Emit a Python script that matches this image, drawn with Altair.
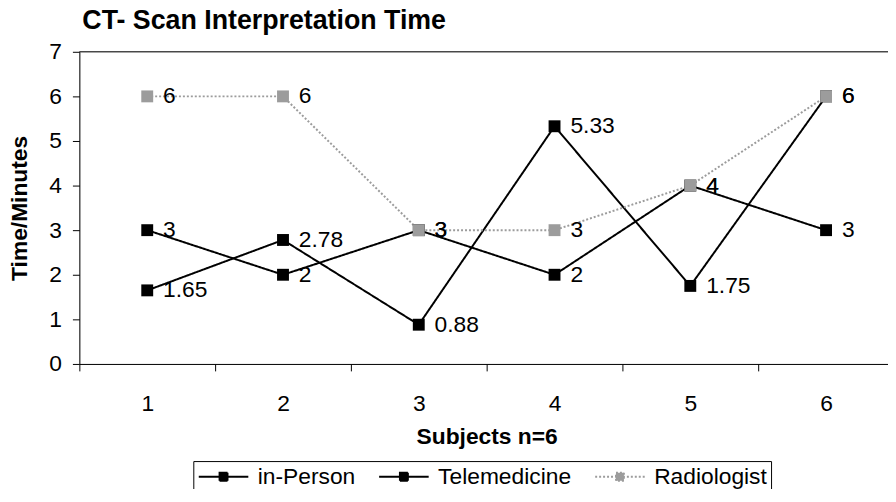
import altair as alt
import pandas as pd

subjects = ["1", "2", "3", "4", "5", "6"]
in_person = [3, 2, 3, 2, 4, 3]
telemedicine = [1.65, 2.78, 0.88, 5.33, 1.75, 6]
radiologist = [6, 6, 3, 3, 4, 6]
series_names = ["in-Person", "Telemedicine", "Radiologist"]
series_colors = ["#000000", "#000000", "#9c9c9c"]
series_dash = [[1, 0], [1, 0], [2, 2]]
series_width = [2, 2, 1.5]
y_ticks = [0, 1, 2, 3, 4, 5, 6, 7]

rows = []
for name, vals in zip(series_names, [in_person, telemedicine, radiologist]):
    for s, v in zip(subjects, vals):
        rows.append({"subject": s, "series": name, "value": v, "label": f"{v:g}"})
df = pd.DataFrame(rows)

FONT = "Liberation Sans"

# legend symbol: line with a filled-looking square on it
sym = ("M-1,0H4"
       "M1.1,-0.4H1.9V0.4H1.1Z"
       "M1.1,-0.2H1.9M1.1,0H1.9M1.1,0.2H1.9")

x_enc = alt.X(
    "subject:O",
    sort=subjects,
    scale=alt.Scale(type="band", paddingInner=0, paddingOuter=0, range=[0, 822]),
    axis=alt.Axis(
        title="Subjects n=6",
        labelAngle=0,
        labelFontSize=23,
        labelFont=FONT,
        labelColor="black",
        labelPadding=22,
        tickSize=7,
        tickColor="black",
        domainColor="black",
        tickBand="extent",
        titleFont=FONT,
        titleFontSize=23,
        titleFontWeight="bold",
        titleColor="black",
        titlePadding=10,
    ),
)
y_enc = alt.Y(
    "value:Q",
    scale=alt.Scale(domain=[0, 7], nice=False, zero=True),
    axis=alt.Axis(
        title="Time/Minutes",
        values=y_ticks,
        grid=False,
        labelFontSize=23,
        labelFont=FONT,
        labelColor="black",
        labelPadding=11,
        tickSize=7,
        tickColor="black",
        domainColor="black",
        titleFont=FONT,
        titleFontSize=23,
        titleFontWeight="bold",
        titleColor="black",
        titlePadding=18,
    ),
)

color_scale = alt.Scale(domain=series_names, range=series_colors)
dash_scale = alt.Scale(domain=series_names, range=series_dash)
width_scale = alt.Scale(domain=series_names, range=series_width)

base = alt.Chart(df)

lines = base.mark_line().encode(
    x=x_enc,
    y=y_enc,
    color=alt.Color(
        "series:N",
        scale=color_scale,
        sort=series_names,
        legend=alt.Legend(
            title=None,
            orient="none",
            legendX=115,
            legendY=413,
            direction="horizontal",
            columns=3,
            strokeColor="black",
            padding=4,
            symbolType=sym,
            symbolSize=400,
            symbolStrokeWidth=2,
            labelFontSize=23,
            labelFont=FONT,
            labelColor="black",
            labelOffset=38,
            columnPadding=19,
        ),
    ),
    strokeDash=alt.StrokeDash("series:N", scale=dash_scale, sort=series_names, legend=None),
    strokeWidth=alt.StrokeWidth("series:N", scale=width_scale, sort=series_names, legend=None),
)

points = base.mark_square(size=144, opacity=1).encode(
    x=x_enc,
    y=y_enc,
    color=alt.Color("series:N", scale=color_scale, legend=None),
)

labels = base.mark_text(
    align="left", baseline="middle", dx=16, fontSize=23, font=FONT, color="black"
).encode(x=x_enc, y=y_enc, text="label:N")

top_border = alt.Chart(pd.DataFrame({"v": [7]})).mark_rule(color="black", strokeWidth=1).encode(
    y=alt.Y("v:Q", scale=alt.Scale(domain=[0, 7]))
)

chart = (
    alt.layer(lines, points, labels, top_border)
    .properties(
        width=816,
        height=315,
        autosize=alt.AutoSizeParams(type="none"),
        padding={"left": 72, "top": 42, "right": 0, "bottom": 124},
        title=alt.TitleParams(
            "CT- Scan Interpretation Time",
            anchor="start",
            frame="group",
            font=FONT,
            fontSize=27,
            fontWeight="bold",
            color="black",
            offset=6,
            dx=3,
        ),
    )
    .configure_view(stroke=None)
    .configure(background="white")
)

chart.save("out.html", embed_options={"renderer": "svg", "actions": False})
